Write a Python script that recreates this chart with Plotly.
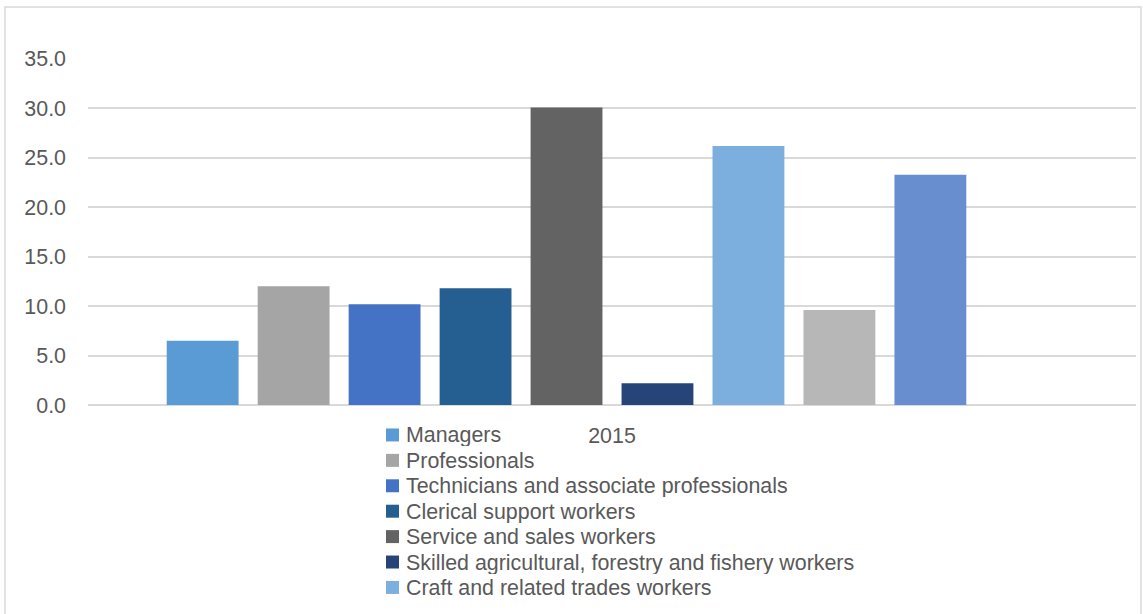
import plotly.graph_objects as go

categories = ["2015"]
series_names = [
    "Managers",
    "Professionals",
    "Technicians and associate professionals",
    "Clerical support workers",
    "Service and sales workers",
    "Skilled agricultural, forestry and fishery workers",
    "Craft and related trades workers",
    "Plant and machine operators, and assemblers",
    "Elementary occupations",
    "Armed forces occupations",
]
series_values = [6.5, 12.0, 10.2, 11.8, 30.1, 2.2, 26.2, 9.6, 23.3, None]
series_colors = ["#5b9bd5", "#a5a5a5", "#4472c4", "#255e91", "#636363",
                 "#264478", "#7cafdd", "#b7b7b7", "#698ed0", "#335aa1"]
y_ticks = [0, 5, 10, 15, 20, 25, 30, 35]
y_ticklabels = [f"{v:.1f}" for v in y_ticks]

FONT = "Liberation Sans"
FS = 21.4
FS_LEG = 21.4
TXT = "#595959"

fig = go.Figure()
for name, val, col in zip(series_names, series_values, series_colors):
    fig.add_trace(go.Bar(
        x=categories, y=[val], name=name, marker_color=col,
        marker_line_width=0, showlegend=False,
    ))

W, H = 1143, 614
ml, mr, mt, mb = 88, 7, 58, 208.5
pw = W - ml - mr
ph = H - mt - mb

def px2paper_x(px):
    return (px - ml) / pw

def px2paper_y(py):
    return (H - mb - py) / ph

# Legend drawn as boxes + text, below the plot (only the visible part of the legend)
shapes = [dict(type="rect", xref="paper", yref="paper",
               x0=px2paper_x(5), x1=px2paper_x(1141),
               y0=px2paper_y(620), y1=px2paper_y(7),
               line=dict(color="#d9d9d9", width=1.5), fillcolor="rgba(0,0,0,0)",
               layer="below")]
annotations = []
LEG_TOP = 435.5
LEG_STEP = 25.45
for i, (name, col) in enumerate(zip(series_names[:7], series_colors[:7])):
    cy = LEG_TOP + i * LEG_STEP
    shapes.append(dict(type="rect", xref="paper", yref="paper",
                       x0=px2paper_x(386), x1=px2paper_x(399),
                       y0=px2paper_y(cy + 6.5), y1=px2paper_y(cy - 6.5),
                       line=dict(width=0), fillcolor=col))
    annotations.append(dict(text=name, xref="paper", yref="paper",
                            x=px2paper_x(404), y=px2paper_y(cy + 0.5),
                            xanchor="left", yanchor="middle", showarrow=False,
                            height=22, valign="middle",
                            font=dict(family=FONT, size=FS_LEG, color=TXT)))

fig.update_layout(
    width=W, height=H,
    margin=dict(l=ml, r=mr, t=mt, b=mb, pad=0),
    paper_bgcolor="white", plot_bgcolor="white",
    barmode="group", bargap=0.132, bargroupgap=0.21,
    showlegend=False,
    font=dict(family=FONT, size=FS, color=TXT),
    xaxis=dict(showgrid=False, showline=False, ticks="", zeroline=False,
               tickfont=dict(family=FONT, size=FS, color=TXT), ticklabelstandoff=16),
    yaxis=dict(range=[0, 35.1], tickvals=y_ticks, ticktext=y_ticklabels,
               showgrid=True, gridcolor="#d9d9d9", gridwidth=1.5,
               zeroline=True, zerolinecolor="#d9d9d9", zerolinewidth=1.5,
               showline=False, ticks="", ticklabelstandoff=21,
               tickfont=dict(family=FONT, size=FS, color=TXT)),
    shapes=shapes,
    annotations=annotations,
)

fig.write_html("out.html", config={"displayModeBar": False},
               post_script="document.body.style.margin='0';")
